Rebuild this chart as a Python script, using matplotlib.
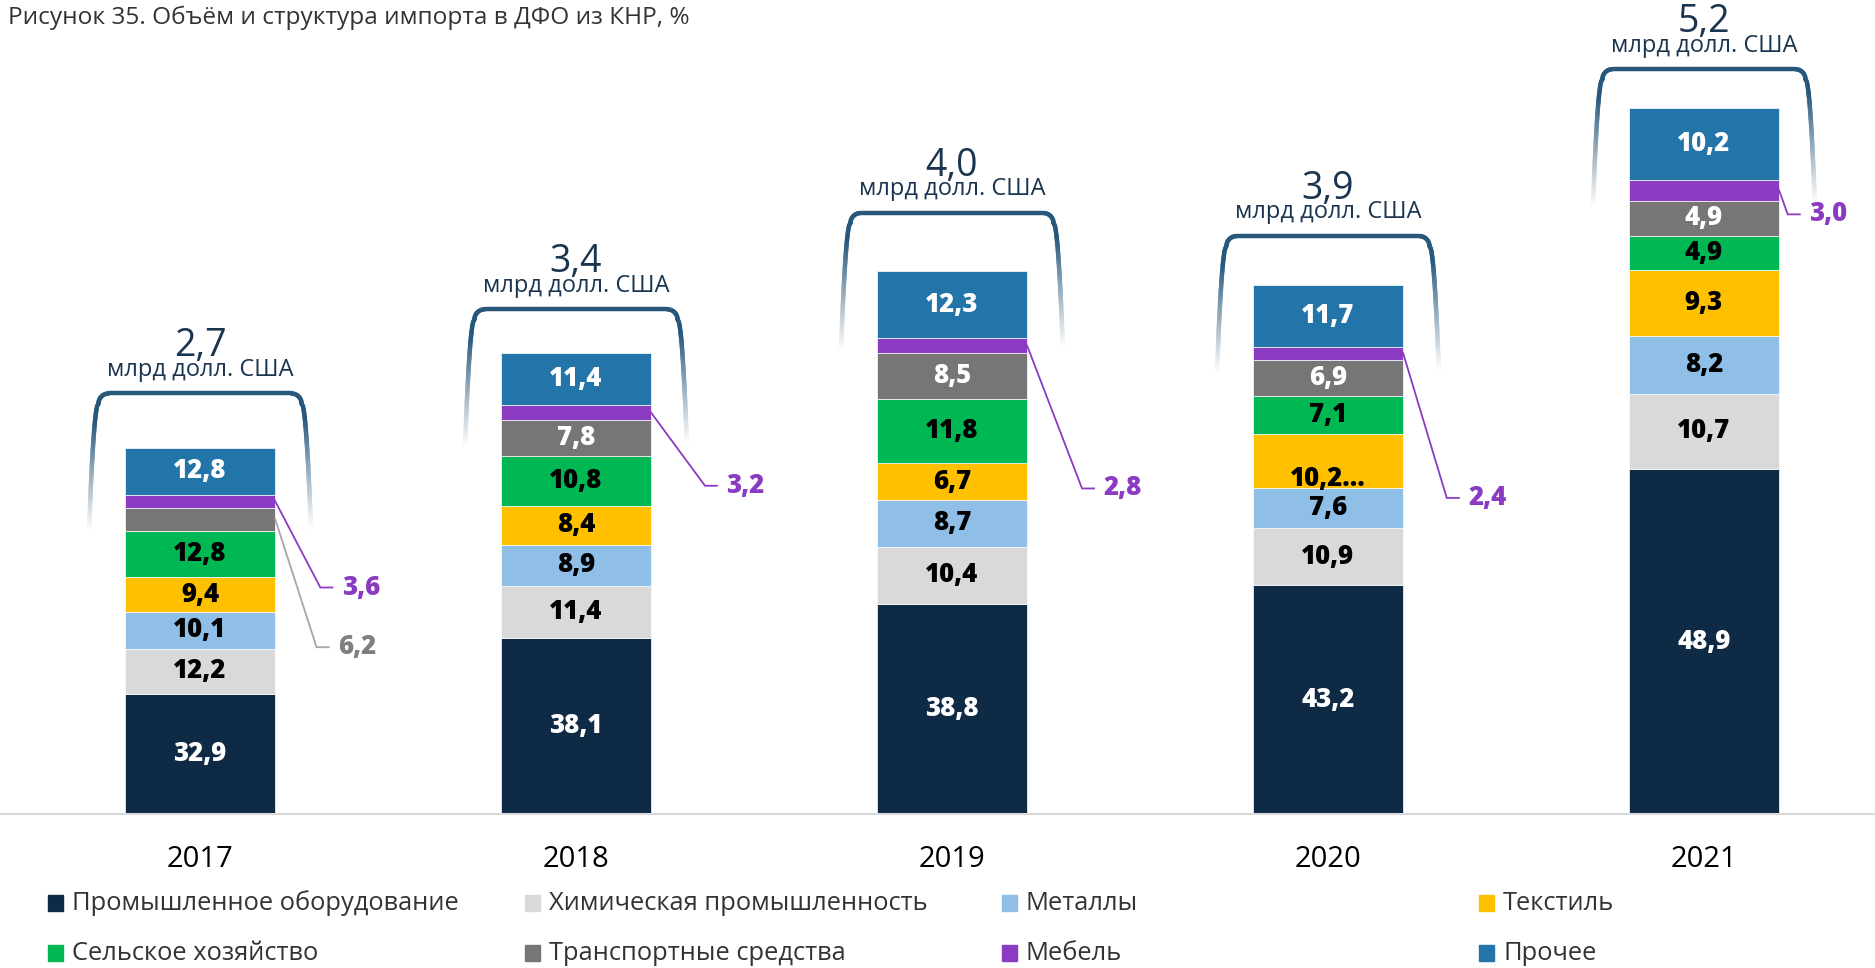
import numpy as np
import matplotlib
matplotlib.use("Agg")
import matplotlib.pyplot as plt
from matplotlib.collections import LineCollection
from matplotlib.colors import to_rgb
from matplotlib.patches import Rectangle

plt.rcParams["font.family"] = ["Open Sans", "DejaVu Sans"]

years = ["2017", "2018", "2019", "2020", "2021"]
totals = [2.7, 3.4, 4.0, 3.9, 5.2]  # млрд долл. США

categories = ["Промышленное оборудование", "Химическая промышленность", "Металлы", "Текстиль",
              "Сельское хозяйство", "Транспортные средства", "Мебель", "Прочее"]
industrial = [32.9, 38.1, 38.8, 43.2, 48.9]
chemical = [12.2, 11.4, 10.4, 10.9, 10.7]
metals = [10.1, 8.9, 8.7, 7.6, 8.2]
textile = [9.4, 8.4, 6.7, 10.2, 9.3]
agriculture = [12.8, 10.8, 11.8, 7.1, 4.9]
transport = [6.2, 7.8, 8.5, 6.9, 4.9]
furniture = [3.6, 3.2, 2.8, 2.4, 3.0]
other = [12.8, 11.4, 12.3, 11.7, 10.2]
shares = [industrial, chemical, metals, textile, agriculture, transport, furniture, other]

colors = ["#0F2A44", "#D9D9DA", "#8FBEE6", "#FFC000", "#00B853", "#767676", "#8A3BC2", "#2274A9"]
text_colors = ["white", "black", "black", "black", "black", "white", None, "white"]

# labels drawn outside the bar: (year, category, elbow dx from bar edge, label y)
outside = [(0, 6, 0.12, 1.67), (0, 5, 0.11, 1.23), (1, 6, 0.143, 2.42),
           (2, 6, 0.146, 2.40), (3, 6, 0.116, 2.33), (4, 6, 0.023, 4.42)]
bracket_gap = [0.40, 0.32, 0.43, 0.36, 0.29]

dark_text = "#1B3550"
bar_w = 0.4
lbl_weight = 800


def fmt(v):
    return f"{v:.1f}".replace(".", ",")


def bracket(ax, xc, top, half=0.27, flare=0.025, leg=1.0, rx=0.027, ry=0.074, color="#27577B"):
    n = 60
    ys = np.linspace(top - leg, top - ry, n)
    t = (top - ry - ys) / (leg - ry)
    left = np.column_stack([xc - half - flare * np.sqrt(t), ys])
    a = np.linspace(np.pi, np.pi / 2, 12)
    arc_l = np.column_stack([xc - half + rx + rx * np.cos(a), top - ry + ry * np.sin(a)])
    a = np.linspace(np.pi / 2, 0, 12)
    arc_r = np.column_stack([xc + half - rx + rx * np.cos(a), top - ry + ry * np.sin(a)])
    ys = ys[::-1]
    t = t[::-1]
    right = np.column_stack([xc + half + flare * np.sqrt(t), ys])
    pts = np.vstack([left, arc_l, arc_r, right])
    segs = np.stack([pts[:-1], pts[1:]], axis=1)
    ymid = segs[:, :, 1].mean(axis=1)
    f = np.clip(((top - ymid) / leg - 0.2) / 0.8, 0, 1) ** 0.9
    c0 = np.array(to_rgb(color))
    cols = c0[None, :] * (1 - f[:, None]) + f[:, None]
    ax.add_collection(LineCollection(segs, colors=cols, linewidths=3.2, capstyle="round"))


fig = plt.figure(figsize=(18.75, 9.68), dpi=100)
ax = fig.add_axes([0, 0.159, 1, 0.841])
x = np.arange(len(years))

bottom = np.zeros(len(years))
for k, (name, vals) in enumerate(zip(categories, shares)):
    h = np.array(vals) / 100 * np.array(totals)
    ax.bar(x, h, bar_w, bottom=bottom, color=colors[k], edgecolor="white", linewidth=0.5)
    for i in range(len(years)):
        if any(o[0] == i and o[1] == k for o in outside):
            continue
        if text_colors[k] is None:
            continue
        if i == 3 and k == 3:
            ax.text(x[i], bottom[i] + 0.06, fmt(vals[i]) + "...", ha="center", va="center",
                    fontsize=18.5, fontweight=lbl_weight, color=text_colors[k])
        else:
            ax.text(x[i], bottom[i] + h[i] / 2, fmt(vals[i]), ha="center", va="center",
                    fontsize=18.5, fontweight=lbl_weight, color=text_colors[k])
    bottom += h

# outside labels with leader lines
for i, k, dx, ly in outside:
    h = np.array([s[i] for s in shares]) / 100 * totals[i]
    ymid = h[:k].sum() + h[k] / 2
    x0 = x[i] + bar_w / 2
    line_c = "#8A3BC2" if k == 6 else "#A6A6A6"
    txt_c = "#8A3BC2" if k == 6 else "#7F7F7F"
    ax.plot([x0, x0 + dx, x0 + dx + 0.032], [ymid, ly, ly], color=line_c, lw=1.3,
            solid_joinstyle="miter")
    ax.text(x0 + dx + 0.057, ly, fmt(shares[k][i]), ha="left", va="center",
            fontsize=18.5, fontweight=lbl_weight, color=txt_c)

# brackets with totals
for i, tot in enumerate(totals):
    top = tot + bracket_gap[i]
    bracket(ax, x[i], top)
    ax.text(x[i], top + 0.275, fmt(tot), ha="center", va="baseline", fontsize=27, color=dark_text)
    ax.text(x[i], top + 0.13, "млрд долл. США", ha="center", va="baseline", fontsize=17,
            color=dark_text)

ax.set_xlim(-0.532, 4.455)
ax.set_ylim(0, 6.0)
ax.set_xticks(x)
ax.set_xticklabels(years, fontsize=21)
ax.tick_params(axis="x", length=0, pad=22)
ax.set_yticks([])
for s in ["top", "left", "right"]:
    ax.spines[s].set_visible(False)
ax.spines["bottom"].set_color("#D9D9D9")
ax.spines["bottom"].set_linewidth(1.5)

fig.text(8 / 1875, 1 - 18 / 968, "Рисунок 35. Объём и структура импорта в ДФО из КНР, %",
         ha="left", va="center", fontsize=17.6, color="#333333")

# legend in fixed columns
W, H = 1875, 968
for k, name in enumerate(categories):
    col, row = k % 4, k // 4
    xm = 48 + col * 477
    ym = 903 + row * 50
    fig.add_artist(Rectangle((xm / W, 1 - (ym + 8) / H), 15 / W, 16 / H,
                             transform=fig.transFigure, color=colors[k]))
    fig.text((xm + 24) / W, 1 - ym / H, name, ha="left", va="center", fontsize=18.4, color="#333333")

plt.savefig("out.png", dpi=100)
